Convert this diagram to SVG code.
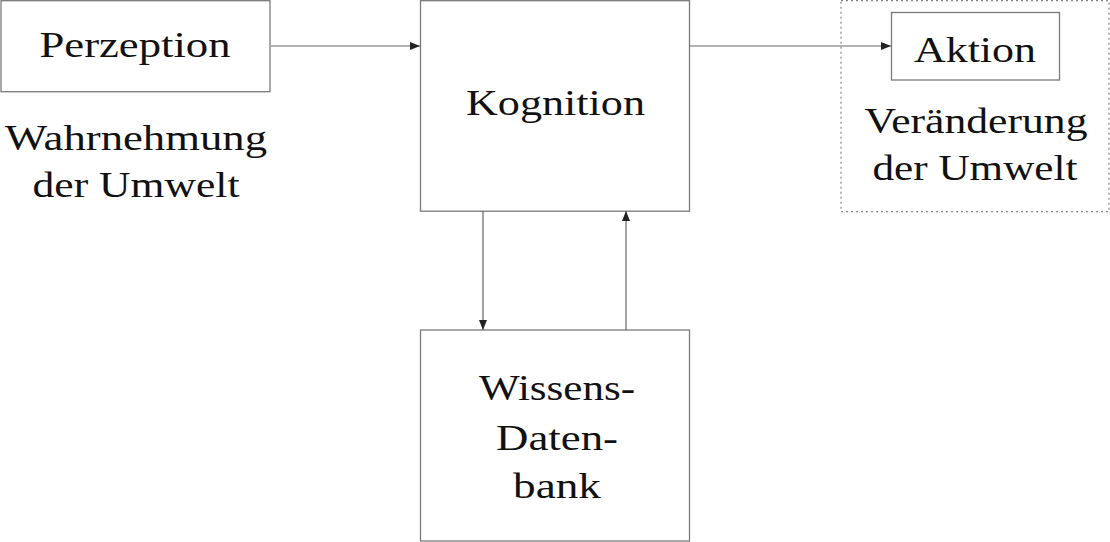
<svg xmlns="http://www.w3.org/2000/svg" width="1110" height="542" viewBox="0 0 1110 542">
<style>
.box{fill:#fff;stroke:#7a7a7a;stroke-width:1.3}
.dot{fill:none;stroke:#888;stroke-width:1.2;stroke-dasharray:2 3}
.t{font-family:"Liberation Serif","DejaVu Serif",serif;font-size:35px;fill:#111;text-anchor:middle}
.c{stroke:#666;stroke-width:1.2;fill:none}
</style>
<defs>
<marker id="ah" viewBox="0 0 10 8" refX="10" refY="4" markerWidth="10" markerHeight="8" markerUnits="userSpaceOnUse" orient="auto">
<path d="M0,0 L10,4 L0,8 Z" fill="#222"/>
</marker>
</defs>
<rect width="1110" height="542" fill="#fff"/>
<g id="perzeption">
<rect class="box" x="1" y="0.7" width="269" height="91"/>
<text class="t" x="135" y="57" textLength="191" lengthAdjust="spacingAndGlyphs">Perzeption</text>
</g>
<g id="wahrnehmung">
<text class="t" x="136" y="150" textLength="262" lengthAdjust="spacingAndGlyphs">Wahrnehmung</text>
<text class="t" x="136" y="197" textLength="207" lengthAdjust="spacingAndGlyphs">der Umwelt</text>
</g>
<g id="kognition">
<rect class="box" x="420.5" y="0.7" width="269" height="210.5"/>
<text class="t" x="555.5" y="115" textLength="179" lengthAdjust="spacingAndGlyphs">Kognition</text>
</g>
<g id="aktion-bereich">
<rect class="dot" x="841" y="0.7" width="268" height="211"/>
</g>
<g id="aktion">
<rect class="box" x="891.5" y="12.5" width="168" height="67.5"/>
<text class="t" x="975" y="62" textLength="122" lengthAdjust="spacingAndGlyphs">Aktion</text>
</g>
<g id="veraenderung">
<text class="t" x="976" y="133" textLength="223" lengthAdjust="spacingAndGlyphs">Veränderung</text>
<text class="t" x="975" y="180" textLength="205" lengthAdjust="spacingAndGlyphs">der Umwelt</text>
</g>
<g id="wissensdatenbank">
<rect class="box" x="420.5" y="330" width="269" height="211"/>
<text class="t" x="557" y="400" textLength="156" lengthAdjust="spacingAndGlyphs">Wissens-</text>
<text class="t" x="557" y="450" textLength="122" lengthAdjust="spacingAndGlyphs">Daten-</text>
<text class="t" x="557" y="498" textLength="88" lengthAdjust="spacingAndGlyphs">bank</text>
</g>
<g id="connectors">
<line class="c" x1="271" y1="46" x2="420" y2="46" marker-end="url(#ah)"/>
<line class="c" x1="690" y1="46" x2="891" y2="46" marker-end="url(#ah)"/>
<line class="c" x1="483" y1="211" x2="483" y2="330" marker-end="url(#ah)"/>
<line class="c" x1="626" y1="330" x2="626" y2="211" marker-end="url(#ah)"/>
</g>
</svg>
